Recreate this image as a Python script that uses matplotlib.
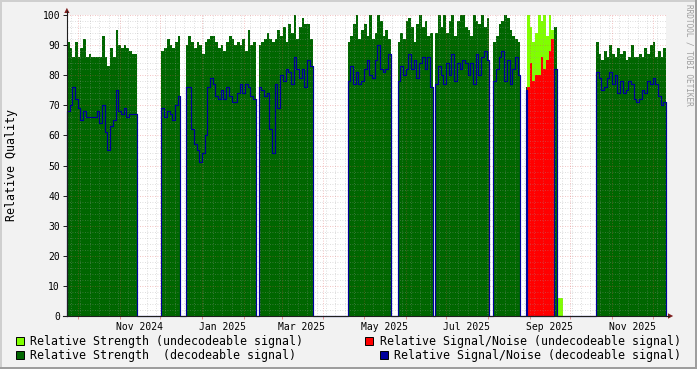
import numpy as np
import pandas as pd
import matplotlib
matplotlib.use("Agg")
import matplotlib.pyplot as plt
import matplotlib.dates as mdates
from matplotlib.patches import Rectangle, Polygon
from matplotlib.lines import Line2D

plt.rcParams['font.family'] = ['DejaVu Sans Mono']

W, H = 697, 369

# ---------------- data ----------------
x_start = "2024-09-23"
x_end = "2025-12-11"

# decodeable signal: segment start dates, sample step (days)
dec_starts = ["2024-09-23", "2024-12-02", "2024-12-20", "2025-02-12", "2025-04-19",
              "2025-05-26", "2025-06-23", "2025-08-05", "2025-08-29", "2025-09-19",
              "2025-10-20"]
dec_steps = [2, 2, 2, 2, 2, 2, 2, 2, 1, 2, 2]

str_seg1 = [91, 89, 86, 91, 86, 89, 92, 86, 87, 86, 86, 86, 86, 93, 86, 83, 89, 86, 95, 90, 89, 90, 89, 88, 87, 87]
snr_seg1 = [68, 70, 76, 72, 69, 65, 68, 66, 66, 66, 66, 68, 64, 70, 61, 55, 63, 65, 75, 68, 67, 69, 66, 67, 67, 67]
str_seg2 = [88, 89, 92, 90, 89, 91, 93]
snr_seg2 = [69, 66, 68, 67, 65, 70, 73]
str_seg3 = [90, 93, 91, 89, 91, 90, 87, 91, 92, 93, 93, 91, 89, 90, 88, 91, 93, 92, 90, 91, 90, 92, 88, 95, 90, 91]
snr_seg3 = [76, 76, 62, 57, 55, 51, 54, 60, 76, 79, 77, 73, 72, 75, 72, 76, 73, 71, 71, 74, 77, 74, 77, 76, 73, 72]
str_seg4 = [90, 91, 92, 94, 92, 91, 92, 95, 93, 96, 91, 97, 94, 100, 92, 96, 99, 97, 97, 92]
snr_seg4 = [76, 75, 73, 74, 62, 54, 77, 69, 80, 78, 82, 81, 77, 86, 82, 79, 82, 76, 85, 83]
str_seg5 = [91, 93, 97, 100, 92, 95, 97, 93, 100, 92, 94, 100, 98, 93, 95, 92]
snr_seg5 = [78, 83, 77, 81, 77, 78, 82, 85, 80, 79, 85, 90, 82, 81, 82, 87]
str_seg6 = [91, 94, 92, 98, 99, 96, 91, 97, 100, 96, 98, 93, 94]
snr_seg6 = [78, 83, 80, 82, 87, 82, 85, 79, 84, 86, 82, 86, 76]
str_seg7 = [94, 100, 96, 100, 94, 98, 100, 93, 98, 100, 100, 96, 95, 93, 100, 98, 97, 100, 96, 99]
snr_seg7 = [77, 83, 80, 77, 84, 80, 87, 78, 84, 82, 85, 84, 80, 84, 77, 87, 80, 86, 88, 85]
str_seg8 = [91, 93, 97, 98, 100, 99, 95, 93, 92, 91]
snr_seg8 = [78, 82, 86, 88, 78, 85, 77, 82, 86, 80]
str_seg9 = [76]
snr_seg9 = [75]
str_seg10 = [96]
snr_seg10 = [82]
str_seg11 = [91, 87, 85, 88, 86, 90, 87, 86, 89, 87, 88, 85, 86, 90, 86, 86, 87, 86, 89, 87, 90, 91, 86, 88, 86, 89]
snr_seg11 = [81, 79, 75, 76, 79, 81, 77, 80, 74, 78, 74, 75, 78, 77, 72, 71, 72, 75, 74, 78, 77, 79, 77, 73, 70, 71]

dec_strength = [str_seg1, str_seg2, str_seg3, str_seg4, str_seg5, str_seg6,
                str_seg7, str_seg8, str_seg9, str_seg10, str_seg11]
dec_snr = [snr_seg1, snr_seg2, snr_seg3, snr_seg4, snr_seg5, snr_seg6,
           snr_seg7, snr_seg8, snr_seg9, snr_seg10, snr_seg11]

# undecodeable signal
und_starts = ["2025-08-30", "2025-09-22"]
und_steps = [2, 2]
und_str_a = [100, 96, 91, 94, 100, 98, 100, 93, 100, 95]
und_snr_a = [76, 84, 78, 80, 80, 86, 82, 85, 88, 92]
und_str_b = [6, 6]
und_snr_b = [0, 0]
und_strength = [und_str_a, und_str_b]
und_snr = [und_snr_a, und_snr_b]

x_labels = ["Nov 2024", "Jan 2025", "Mar 2025", "May 2025", "Jul 2025", "Sep 2025", "Nov 2025"]
x_label_months = ["2024-11", "2025-01", "2025-03", "2025-05", "2025-07", "2025-09", "2025-11"]
y_ticks = list(range(0, 101, 10))

legend_items = [
    ("Relative Strength (undecodeable signal)", "#80FF00"),
    ("Relative Signal/Noise (undecodeable signal)", "#FF0000"),
    ("Relative Strength  (decodeable signal)", "#006600"),
    ("Relative Signal/Noise (decodeable signal)", "#00009C"),
]

# ---------------- helpers ----------------
t_start = mdates.date2num(pd.Timestamp(x_start))
t_end = mdates.date2num(pd.Timestamp(x_end))


def build(starts, steps, values_list):
    xs, ys = [t_start], [0.0]
    for s, st, vals in zip(starts, steps, values_list):
        t0 = mdates.date2num(pd.Timestamp(s))
        xs.append(t0); ys.append(0.0)
        for i, v in enumerate(vals):
            xs.append(t0 + i * st); ys.append(v)
        xs.append(t0 + len(vals) * st); ys.append(0.0)
    xs.append(t_end); ys.append(0.0)
    return np.array(xs), np.array(ys, dtype=float)


def fx(x):
    return x / W


def fy(y):
    return 1 - y / H


# ---------------- figure ----------------
bg = (0.95, 0.95, 0.95)
fig = plt.figure(figsize=(W / 100, H / 100), dpi=100, facecolor=bg)
L, R, T, B = 67, 666, 15, 316
ax = fig.add_axes([fx(L), fy(B), (R - L) / W, (B - T) / H])
ax.set_facecolor("white")
ax.set_xlim(t_start, t_end)
ax.set_ylim(0, 100)
for sp in ax.spines.values():
    sp.set_visible(False)

ux, us = build(und_starts, und_steps, und_strength)
_, un = build(und_starts, und_steps, und_snr)
dx, ds = build(dec_starts, dec_steps, dec_strength)
_, dn = build(dec_starts, dec_steps, dec_snr)

ax.fill_between(ux, 0, us, step="post", color="#80FF00", lw=0, zorder=1)
ax.fill_between(ux, 0, un, step="post", color="#FF0000", lw=0, zorder=2)
ax.fill_between(dx, 0, ds, step="post", color="#006600", lw=0, zorder=3)

# grid
gcol = (0.62, 0.62, 0.62, 0.45)
mcol = (0.87, 0.31, 0.31, 0.45)
dots = (0, (1, 2))
for v in range(2, 101, 2):
    if v % 10:
        ax.axhline(v, color=gcol, lw=0.6, ls=dots, zorder=4)
for v in range(10, 101, 10):
    ax.axhline(v, color=mcol, lw=0.6, ls=dots, zorder=4)
month_starts = pd.date_range(x_start, x_end, freq="MS")
weeks = pd.date_range(x_start, x_end, freq="W-THU")
ms_set = set(d.date() for d in month_starts)
for d in weeks:
    if d.date() not in ms_set:
        ax.axvline(mdates.date2num(d), color=gcol, lw=0.6, ls=dots, zorder=4)
for d in month_starts:
    ax.axvline(mdates.date2num(d), color=mcol, lw=0.6, ls=dots, zorder=4)

ax.step(dx, dn, where="post", color="#00009C", lw=0.85, zorder=6, clip_on=False)

# ticks
ax.set_yticks(y_ticks)
ax.set_yticklabels([str(v) for v in y_ticks])
ax.tick_params(axis="y", length=3, width=0.7, color=(0.12, 0.12, 0.12), pad=2,
               labelsize=7, direction="out")
label_pos = [mdates.date2num(pd.Timestamp(m + "-16")) for m in x_label_months]
ax.set_xticks(label_pos)
ax.set_xticklabels(x_labels)
ax.set_xticks([mdates.date2num(d) for d in month_starts], minor=True)
ax.tick_params(axis="x", which="major", length=0, pad=4.5, labelsize=7)
ax.tick_params(axis="x", which="minor", length=2, width=0.7, color=(0.87, 0.31, 0.31, 0.6))

# axes lines & arrows
axc = (0.12, 0.12, 0.12)
arc = (0.5, 0.12, 0.12)
fig.add_artist(Line2D([fx(67), fx(67)], [fy(316), fy(11)], color=axc, lw=0.8, zorder=7))
fig.add_artist(Line2D([fx(63), fx(669)], [fy(316), fy(316)], color=axc, lw=0.8, zorder=5))
fig.add_artist(Polygon([(fx(64.3), fy(13)), (fx(69.5), fy(13)), (fx(66.9), fy(7.8))],
                       closed=True, color=arc, lw=0, transform=fig.transFigure))
fig.add_artist(Polygon([(fx(668), fy(313.3)), (fx(668), fy(318.7)), (fx(673.2), fy(316))],
                       closed=True, color=arc, lw=0, transform=fig.transFigure))

# texts
fig.text(fx(12), fy(165), "Relative Quality", rotation=90, ha="center", va="center",
         fontsize=8.4, color="black")
fig.text(fx(689), fy(4), "RRDTOOL / TOBI OETIKER", rotation=270, ha="center", va="top",
         fontsize=5.6, color=(0.62, 0.62, 0.62))

# legend
leg_pos = [(15.5, 341, 30), (365, 341, 380), (15.5, 355, 30), (380, 355, 394)]
for (label, col), (sx, cy, tx) in zip(legend_items, leg_pos):
    fig.add_artist(Rectangle((fx(sx), fy(cy + 4)), 8 / W, 8 / H, transform=fig.transFigure,
                             facecolor=col, edgecolor="black", lw=0.7))
    fig.text(fx(tx), fy(cy), label, ha="left", va="center", fontsize=8.4, color="black")

# border shading
fig.add_artist(Rectangle((0, fy(2)), 1, 2 / H, transform=fig.transFigure, color="#CFCFCF", lw=0))
fig.add_artist(Rectangle((0, 0), 2 / W, 1, transform=fig.transFigure, color="#CFCFCF", lw=0))
fig.add_artist(Rectangle((0, 0), 1, 2 / H, transform=fig.transFigure, color="#9E9E9E", lw=0))
fig.add_artist(Rectangle((fx(695), 0), 2 / W, 1, transform=fig.transFigure, color="#9E9E9E", lw=0))

fig.savefig("out.png", dpi=100, facecolor=bg)
